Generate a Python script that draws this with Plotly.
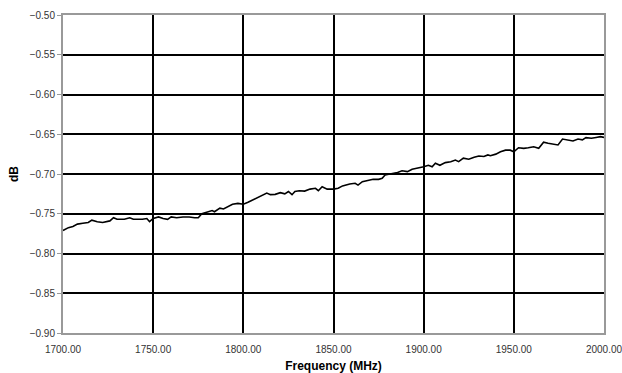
import plotly.graph_objects as go

# Measured insertion loss across the band
freq_mhz = [
    1700, 1703, 1705.5, 1708, 1711, 1714, 1716, 1719, 1722, 1726, 1728, 1730,
    1734, 1737, 1739, 1744, 1746.5, 1748, 1750, 1753, 1755.5, 1758, 1760, 1763,
    1766.5, 1770, 1773, 1775, 1777, 1780, 1782.7, 1784, 1787, 1789, 1792, 1794,
    1797, 1800, 1802.6, 1805, 1807.6, 1810, 1813, 1815, 1817.7, 1820.5, 1823,
    1825, 1827, 1828.6, 1831, 1834, 1837, 1840, 1841.6, 1843.7, 1846.5, 1850,
    1852.6, 1855, 1859, 1862, 1863.6, 1866, 1869, 1872, 1875, 1877, 1878.6,
    1882, 1885.5, 1888, 1891, 1893.6, 1896.4, 1900, 1902.6, 1904.7, 1906.5,
    1909, 1912, 1915, 1917.6, 1919.4, 1922, 1925, 1928, 1930.6, 1933.4, 1935.6,
    1937, 1940, 1942.6, 1945.4, 1948, 1950, 1952.6, 1955.5, 1958, 1961, 1963.8,
    1966.5, 1969, 1972, 1974.5, 1977, 1980, 1982.8, 1985.6, 1988, 1990, 1993,
    1995.6, 1998, 2000,
]
loss_db = [
    -0.771, -0.7675, -0.766, -0.763, -0.762, -0.761, -0.758, -0.760, -0.761,
    -0.759, -0.755, -0.757, -0.757, -0.755, -0.757, -0.757, -0.756, -0.760,
    -0.756, -0.754, -0.756, -0.757, -0.754, -0.755, -0.754, -0.754, -0.755,
    -0.755, -0.750, -0.748, -0.746, -0.7475, -0.743, -0.744, -0.740, -0.738,
    -0.737, -0.738, -0.7356, -0.733, -0.7306, -0.727, -0.724, -0.726, -0.7256,
    -0.7235, -0.725, -0.722, -0.726, -0.722, -0.721, -0.7215, -0.719, -0.718,
    -0.721, -0.716, -0.719, -0.719, -0.718, -0.715, -0.7125, -0.7117, -0.714,
    -0.7097, -0.708, -0.7067, -0.7067, -0.7055, -0.7013, -0.700, -0.698,
    -0.696, -0.697, -0.694, -0.693, -0.691, -0.689, -0.691, -0.6865, -0.689,
    -0.6857, -0.6845, -0.6824, -0.6845, -0.680, -0.6815, -0.679, -0.6774,
    -0.678, -0.676, -0.677, -0.675, -0.672, -0.670, -0.670, -0.672, -0.667,
    -0.6677, -0.667, -0.6657, -0.6677, -0.660, -0.6614, -0.6627, -0.6635,
    -0.656, -0.657, -0.6585, -0.656, -0.657, -0.6543, -0.655, -0.654, -0.653,
    -0.654,
]

x_ticks = [1700, 1750, 1800, 1850, 1900, 1950, 2000]
y_ticks = [-0.90, -0.85, -0.80, -0.75, -0.70, -0.65, -0.60, -0.55, -0.50]

fig = go.Figure(
    go.Scatter(
        x=freq_mhz,
        y=loss_db,
        mode="lines",
        line=dict(color="black", width=1.6),
        showlegend=False,
    )
)

axis_font = dict(family="Liberation Sans, Arial, sans-serif", size=10, color="#333333")
title_font = dict(family="Liberation Sans, Arial, sans-serif", size=12, color="black")

fig.update_xaxes(
    range=[1700, 2000.0001],
    tickvals=x_ticks,
    tickformat=".2f",
    tickfont=axis_font,
    ticklabeloverflow="allow",
    ticklabelstandoff=6,
    automargin=False,
    showgrid=True,
    gridcolor="black",
    gridwidth=1.5,
    zeroline=False,
    showline=True,
    mirror=True,
    linecolor="#999999",
    linewidth=2,
    ticks="",
    title=dict(text="<b>Frequency (MHz)</b>", font=title_font, standoff=11),
)
fig.update_yaxes(
    range=[-0.90, -0.50],
    tickvals=y_ticks,
    tickformat=".2f",
    tickfont=axis_font,
    automargin=False,
    showgrid=True,
    gridcolor="black",
    gridwidth=1.5,
    zeroline=False,
    showline=True,
    mirror=True,
    linecolor="#999999",
    linewidth=2,
    ticks="outside",
    ticklen=4,
    tickcolor="#999999",
    tickwidth=1,
    title=dict(text="<b>dB</b>", font=title_font, standoff=8),
)

fig.update_layout(
    width=622,
    height=373,
    margin=dict(l=63, r=18, t=15, b=40),
    paper_bgcolor="white",
    plot_bgcolor="white",
)

fig.write_html("out.html")
